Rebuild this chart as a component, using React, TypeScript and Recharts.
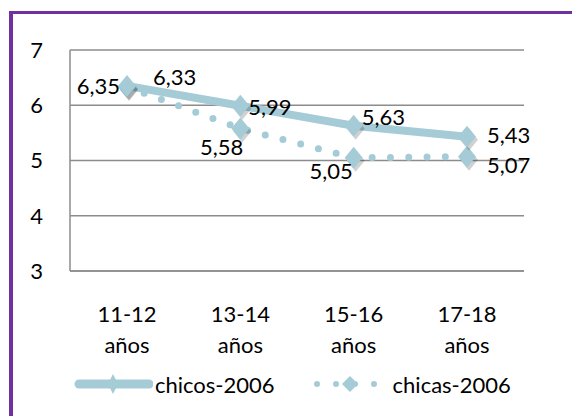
import { CartesianGrid, LabelList, Legend, Line, LineChart, XAxis, YAxis } from 'recharts';

const CATEGORIES = ['11-12 años', '13-14 años', '15-16 años', '17-18 años'];
const CHICOS = [6.35, 5.99, 5.63, 5.43];
const CHICAS = [6.33, 5.58, 5.05, 5.07];
const Y_TICKS = [3, 4, 5, 6, 7];

const data = CATEGORIES.map((c, i) => ({ cat: c, chicos: CHICOS[i], chicas: CHICAS[i] }));

const BLUE = '#a5ccd6';
const GRID = '#8c8c8c';
const FONT = 'Lato, "Open Sans", sans-serif';

// where each data label sits around its point (Excel placed them by hand)
const CHICOS_LBL = [
  { dx: -7, dy: 0, anchor: 'end' },
  { dx: 8, dy: 1, anchor: 'start' },
  { dx: 8, dy: -9, anchor: 'start' },
  { dx: 20, dy: -2, anchor: 'start' },
];
const CHICAS_LBL = [
  { dx: 26, dy: -11, anchor: 'start' },
  { dx: 3, dy: 18, anchor: 'end' },
  { dx: -1, dy: 13, anchor: 'end' },
  { dx: 20, dy: 8, anchor: 'start' },
];

function Diamond(props: any) {
  const { cx, cy } = props;
  if (cx == null || cy == null) return null;
  const pts = (ox: number, oy: number) =>
    `${cx + ox},${cy - 11 + oy} ${cx + 9 + ox},${cy + oy} ${cx + ox},${cy + 11 + oy} ${cx - 9 + ox},${cy + oy}`;
  return (
    <g>
      <polygon points={pts(2, 3)} fill="#000" opacity={0.18} />
      <polygon points={pts(0, 0)} fill={BLUE} />
    </g>
  );
}

const makeLabel = (pos: typeof CHICOS_LBL) => (props: any) => {
  const { x, y, value, index } = props;
  const p = pos[index];
  return (
    <text
      x={x + p.dx}
      y={y + p.dy}
      textAnchor={p.anchor as any}
      dominantBaseline="central"
      fontSize={22}
      fontFamily={FONT}
      fill="#000"
    >
      {String(value.toFixed(2)).replace('.', ',')}
    </text>
  );
};

function CatTick(props: any) {
  const { x, y, payload } = props;
  const [a, b] = String(payload.value).split(' ');
  return (
    <text x={x} y={y} textAnchor="middle" fontSize={22} fontFamily={FONT} fill="#000">
      <tspan x={x} dy={43}>{a}</tspan>
      <tspan x={x} dy={31}>{b}</tspan>
    </text>
  );
}

function LegendBox() {
  const txt = { fontSize: 22, fontFamily: FONT, color: '#000' };
  return (
    <div style={{ display: 'flex', alignItems: 'center', height: 30 }}>
      <svg width={80} height={30} style={{ marginLeft: 73 }}>
        <line x1={6} y1={15} x2={76} y2={15} stroke={BLUE} strokeWidth={9} strokeLinecap="round" />
        <polygon points="40,5 45,15 40,25 35,15" fill={BLUE} />
      </svg>
      <span style={{ ...txt, marginLeft: 2 }}>chicos-2006</span>
      <svg width={72} height={30} style={{ marginLeft: 37 }}>
        <line x1={5} y1={15} x2={66} y2={15} stroke={BLUE} strokeWidth={6} strokeLinecap="round" strokeDasharray="0 19" />
        <polygon points="38,7 46,15 38,23 30,15" fill={BLUE} />
      </svg>
      <span style={{ ...txt, marginLeft: 9 }}>chicas-2006</span>
    </div>
  );
}

export default function App() {
  return (
    <div style={{ position: 'absolute', left: 0, top: 0, width: 572, height: 416, overflow: 'hidden', background: '#fff' }}>
      <div
        style={{
          position: 'absolute',
          left: 9,
          top: 11,
          width: 600,
          height: 450,
          borderTop: '3.5px solid #7030a0',
          borderLeft: '4px solid #7030a0',
        }}
      />
      <div style={{ position: 'absolute', left: 0, top: 0 }}>
        <LineChart width={572} height={416} data={data} margin={{ top: 50, right: 48, bottom: 0, left: 30 }}>
          <CartesianGrid vertical={false} stroke={GRID} strokeWidth={1.5} />
          <XAxis
            dataKey="cat"
            height={115}
            padding={{ left: 57, right: 57 }}
            axisLine={{ stroke: GRID, strokeWidth: 1.5 }}
            tickLine={false}
            tick={<CatTick />}
            interval={0}
          />
          <YAxis
            width={40}
            domain={[3, 7]}
            ticks={Y_TICKS}
            axisLine={{ stroke: GRID, strokeWidth: 1.5 }}
            tickLine={false}
            tickSize={0}
            tickMargin={27}
            tick={{ fontSize: 22, fontFamily: FONT, fill: '#000' }}
          />
          <Legend content={<LegendBox />} wrapperStyle={{ top: 369, left: 0, width: 572 }} />
          <Line
            type="linear"
            dataKey="chicas"
            name="chicas-2006"
            stroke={BLUE}
            strokeWidth={7}
            strokeLinecap="round"
            strokeDasharray="0 18.3"
            dot={<Diamond />}
            isAnimationActive={false}
          >
            <LabelList dataKey="chicas" content={makeLabel(CHICAS_LBL)} />
          </Line>
          <Line
            type="linear"
            dataKey="chicos"
            name="chicos-2006"
            stroke={BLUE}
            strokeWidth={8}
            dot={<Diamond />}
            isAnimationActive={false}
          >
            <LabelList dataKey="chicos" content={makeLabel(CHICOS_LBL)} />
          </Line>
        </LineChart>
      </div>
    </div>
  );
}
